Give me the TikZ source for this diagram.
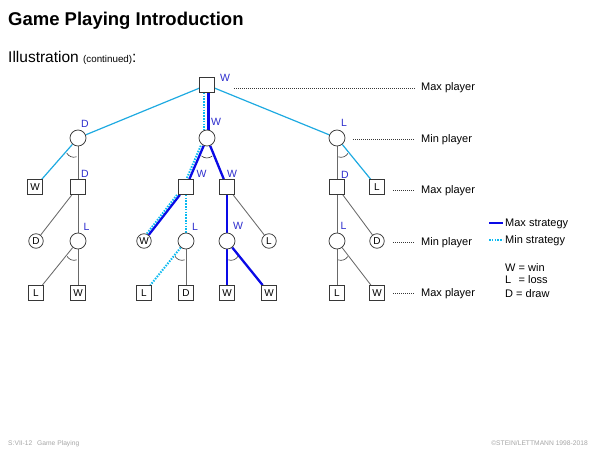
\documentclass[tikz,border=0pt]{standalone}
\usepackage{fontspec}
\setmainfont{Liberation Sans}
\usetikzlibrary{backgrounds}
\definecolor{cyanc}{RGB}{30,170,225}
\definecolor{dotc}{RGB}{10,185,240}
\definecolor{bluec}{RGB}{10,10,230}
\definecolor{lblc}{RGB}{45,45,205}
\definecolor{edgeg}{RGB}{105,105,105}
\definecolor{nodeg}{RGB}{55,55,55}
\definecolor{footg}{RGB}{165,165,165}
\newcommand\minarc[3]{\draw[arcst] ([shift={({(#2+#3)/2}:12)}]#1.center) ++({#2-20}:8) arc[start angle={#2-20}, end angle={#3+20}, radius=8];}
\begin{document}
\begin{tikzpicture}[x=1pt,y=1pt,
 sq/.style={rectangle,draw=nodeg,line width=0.75,fill=white,minimum size=15,inner sep=0},
 ci/.style={circle,draw=nodeg,line width=0.75,fill=white,minimum size=16,inner sep=0},
 lci/.style={circle,draw=nodeg,line width=0.75,fill=white,minimum size=14.5,inner sep=0,font=\fontsize{10}{12}\selectfont},
 lsq/.style={sq,font=\fontsize{10}{12}\selectfont},
 lbl/.style={text=lblc,font=\fontsize{10.5}{12}\selectfont,inner sep=0},
 ge/.style={draw=edgeg,line width=0.85},
 ce/.style={draw=cyanc,line width=1.2},
 be/.style={draw=bluec,line width=2.3},
 de/.style={draw=dotc,line width=2,dash pattern=on 1.5 off 1.3},
 arcst/.style={draw=nodeg,line width=0.6},
 plr/.style={font=\fontsize{11}{13}\selectfont,anchor=base west,inner sep=0},
 guide/.style={draw=nodeg,line width=0.5,dash pattern=on 1 off 1},
 foot/.style={font=\fontsize{6.7}{8}\selectfont,text=footg,inner sep=0},
]
\useasboundingbox (0,0) rectangle (600,-450);
% title
\node[anchor=base west,inner sep=0,font=\fontsize{18.5}{22}\selectfont\bfseries] (title) at (8,-25) {Game Playing Introduction};
\node[anchor=base west,inner sep=0,font=\fontsize{15.5}{18}\selectfont] (sub) at (8,-62) {Illustration {\fontsize{9.8}{12}\selectfont (continued)}:};
% nodes
\node[sq] (r) at (207,-85) {};
\node[ci] (a1) at (78,-138) {};
\node[ci] (a2) at (207,-138) {};
\node[ci] (a3) at (337,-138) {};
\node[lsq] (b0) at (35,-187) {W};
\node[sq] (b1) at (78,-187) {};
\node[sq] (b2) at (186,-187) {};
\node[sq] (b3) at (227,-187) {};
\node[sq] (b4) at (337,-187) {};
\node[lsq] (b5) at (377,-187) {L};
\node[lci] (c0) at (36,-241) {D};
\node[ci] (c1) at (78,-241) {};
\node[lci] (c2) at (144,-241) {W};
\node[ci] (c3) at (186,-241) {};
\node[ci] (c4) at (227,-241) {};
\node[lci] (c5) at (269,-241) {L};
\node[ci] (c6) at (337,-241) {};
\node[lci] (c7) at (377,-241) {D};
\node[lsq] (d0) at (36,-293) {L};
\node[lsq] (d1) at (78,-293) {W};
\node[lsq] (d2) at (144,-293) {L};
\node[lsq] (d3) at (186,-293) {D};
\node[lsq] (d4) at (227,-293) {W};
\node[lsq] (d5) at (269,-293) {W};
\node[lsq] (d6) at (337,-293) {L};
\node[lsq] (d7) at (377,-293) {W};
% edges
\begin{pgfonlayer}{background}
\draw[ce] (r) -- (a1);
\draw[be,transform canvas={xshift=1.5pt}] (r) -- (a2);
\draw[de,transform canvas={xshift=-2.7pt}] (r) -- (a2);
\draw[ce] (r) -- (a3);
\draw[ce] (a1) -- (b0);
\draw[ge] (a1) -- (b1);
\draw[be] (a2) -- (b2);
\draw[de,transform canvas={xshift=-2.9pt}] (a2) -- (b2);
\draw[be] (a2) -- (b3);
\draw[ge] (a3) -- (b4);
\draw[ce] (a3) -- (b5);
\draw[ge] (b1) -- (c0);
\draw[ge] (b1) -- (c1);
\draw[be] (b2) -- (c2);
\draw[de,transform canvas={xshift=-2.9pt}] (b2) -- (c2);
\draw[de] (b2) -- (c3);
\draw[be] (b3) -- (c4);
\draw[ge] (b3) -- (c5);
\draw[ge] (b4) -- (c6);
\draw[ge] (b4) -- (c7);
\draw[ge] (c1) -- (d0);
\draw[ge] (c1) -- (d1);
\draw[de] (c3) -- (d2);
\draw[ge] (c3) -- (d3);
\draw[be] (c4) -- (d4);
\draw[be] (c4) -- (d5);
\draw[ge] (c6) -- (d6);
\draw[ge] (c6) -- (d7);
\end{pgfonlayer}
% min arcs
\minarc{a1}{-131}{-90}
\minarc{a2}{-113}{-68}
\minarc{a3}{-90}{-51}
\minarc{c1}{-129}{-90}
\minarc{c3}{-129}{-90}
\minarc{c4}{-90}{-51}
\minarc{c6}{-90}{-52}
% value labels
\node[lbl] (lr) at (225,-78) {W};
\node[lbl] (la1) at (85,-124) {D};
\node[lbl] (la2) at (216,-122) {W};
\node[lbl] (la3) at (344,-123) {L};
\node[lbl] (lb1) at (85,-174) {D};
\node[lbl] (lb2) at (201.5,-174) {W};
\node[lbl] (lb3) at (232,-174) {W};
\node[lbl] (lb4) at (345,-175) {D};
\node[lbl] (lc1) at (86.5,-227) {L};
\node[lbl] (lc3) at (195,-227) {L};
\node[lbl] (lc4) at (238,-226) {W};
\node[lbl] (lc6) at (343.5,-226) {L};
% player guides
\coordinate (g1s) at (234,-88);  \coordinate (g1e) at (415,-88);
\coordinate (g2s) at (353,-139); \coordinate (g2e) at (415,-139);
\coordinate (g3s) at (393,-190); \coordinate (g3e) at (415,-190);
\coordinate (g4s) at (393,-242); \coordinate (g4e) at (415,-242);
\coordinate (g5s) at (393,-293); \coordinate (g5e) at (415,-293);
\draw[guide] (g1s) -- (g1e);
\draw[guide] (g2s) -- (g2e);
\draw[guide] (g3s) -- (g3e);
\draw[guide] (g4s) -- (g4e);
\draw[guide] (g5s) -- (g5e);
\node[plr] (p1) at (421,-90.5) {Max player};
\node[plr] (p2) at (421,-142.5) {Min player};
\node[plr] (p3) at (421,-193.5) {Max player};
\node[plr] (p4) at (421,-245) {Min player};
\node[plr] (p5) at (421,-296) {Max player};
% legend
\coordinate (lg1s) at (489,-223); \coordinate (lg1e) at (503,-223);
\coordinate (lg2s) at (489,-240); \coordinate (lg2e) at (503,-240);
\draw[be] (lg1s) -- (lg1e);
\draw[de] (lg2s) -- (lg2e);
\node[plr] (t1) at (505,-226.5) {Max strategy};
\node[plr] (t2) at (505,-243.5) {Min strategy};
\node[plr] (t3) at (505,-271) {W = win};
\node[plr] (t4) at (505,-283) {\makebox[0.944em][l]{L} = loss};
\node[plr] (t5) at (505,-297) {D = draw};
% footer
\node[foot,anchor=base west] (f1) at (8,-445) {S:VII-12};
\node[foot,anchor=base west] (f2) at (37,-445) {Game Playing};
\node[foot,anchor=base east] (f3) at (588,-445) {©STEIN/LETTMANN 1998-2018};
\end{tikzpicture}
\end{document}
